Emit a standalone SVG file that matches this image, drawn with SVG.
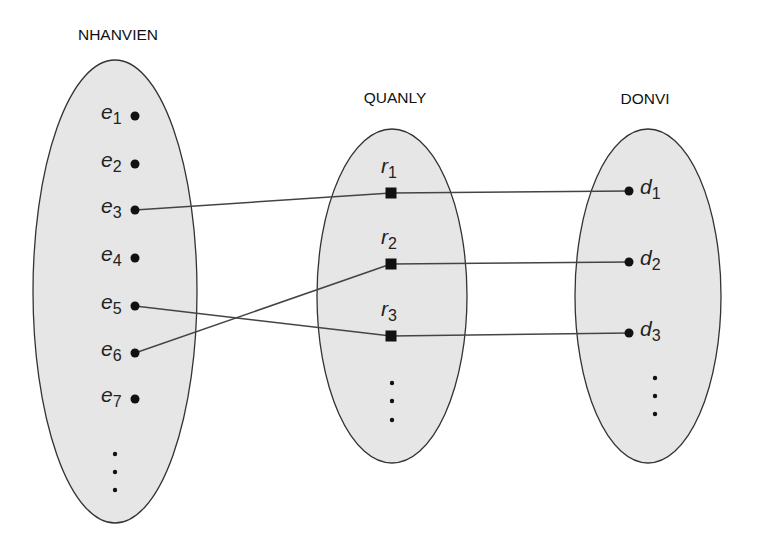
<svg xmlns="http://www.w3.org/2000/svg" width="764" height="542" viewBox="0 0 764 542">
<style>
.set{fill:#e6e6e6;stroke:#333;stroke-width:1.3}
.title{font-family:"Liberation Sans",Arial,sans-serif;font-size:15.5px;fill:#111;text-anchor:middle}
.lbl{font-family:"Liberation Sans",Arial,sans-serif;font-size:21px;font-style:italic;fill:#222}
.sub{font-size:16px;font-style:normal}
.conn line{stroke:#444;stroke-width:1.5}
.dot{fill:#111}
.sq{fill:#111}
</style>
<rect width="764" height="542" fill="#fff"/>
<g id="NHANVIEN">
<ellipse class="set" cx="115" cy="291.5" rx="82" ry="231.5"/>
<text class="title" x="118" y="40">NHANVIEN</text>
</g>
<g id="QUANLY">
<ellipse class="set" cx="392" cy="296" rx="75" ry="167"/>
<text class="title" x="395" y="103">QUANLY</text>
</g>
<g id="DONVI">
<ellipse class="set" cx="648" cy="296" rx="73" ry="167"/>
<text class="title" x="645" y="104">DONVI</text>
</g>
<g class="conn" id="connectors">
<line x1="135" y1="210" x2="391" y2="193"/>
<line x1="391" y1="193" x2="629" y2="191"/>
<line x1="135" y1="353" x2="391" y2="264"/>
<line x1="391" y1="264" x2="629" y2="262"/>
<line x1="135" y1="306" x2="391" y2="336"/>
<line x1="391" y1="336" x2="629" y2="333"/>
</g>
<g id="e1"><circle class="dot" cx="135" cy="116" r="4.5"/><text class="lbl" x="101" y="119">e<tspan class="sub" dy="5">1</tspan></text></g>
<g id="e2"><circle class="dot" cx="135" cy="164" r="4.5"/><text class="lbl" x="101" y="167">e<tspan class="sub" dy="5">2</tspan></text></g>
<g id="e3"><circle class="dot" cx="135" cy="210" r="4.5"/><text class="lbl" x="101" y="213">e<tspan class="sub" dy="5">3</tspan></text></g>
<g id="e4"><circle class="dot" cx="135" cy="258" r="4.5"/><text class="lbl" x="101" y="261">e<tspan class="sub" dy="5">4</tspan></text></g>
<g id="e5"><circle class="dot" cx="135" cy="306" r="4.5"/><text class="lbl" x="101" y="309">e<tspan class="sub" dy="5">5</tspan></text></g>
<g id="e6"><circle class="dot" cx="135" cy="353" r="4.5"/><text class="lbl" x="101" y="356">e<tspan class="sub" dy="5">6</tspan></text></g>
<g id="e7"><circle class="dot" cx="135" cy="399" r="4.5"/><text class="lbl" x="101" y="402">e<tspan class="sub" dy="5">7</tspan></text></g>
<g id="e-more"><circle class="dot" cx="115" cy="454" r="2.2"/><circle class="dot" cx="115" cy="472" r="2.2"/><circle class="dot" cx="115" cy="490" r="2.2"/></g>
<g id="r1"><rect class="sq" x="385.5" y="187.5" width="11" height="11"/><text class="lbl" x="381" y="173">r<tspan class="sub" dy="5">1</tspan></text></g>
<g id="r2"><rect class="sq" x="385.5" y="258.5" width="11" height="11"/><text class="lbl" x="381" y="244">r<tspan class="sub" dy="5">2</tspan></text></g>
<g id="r3"><rect class="sq" x="385.5" y="330.5" width="11" height="11"/><text class="lbl" x="381" y="316">r<tspan class="sub" dy="5">3</tspan></text></g>
<g id="r-more"><circle class="dot" cx="392" cy="383" r="2.2"/><circle class="dot" cx="392" cy="401" r="2.2"/><circle class="dot" cx="392" cy="420" r="2.2"/></g>
<g id="d1"><circle class="dot" cx="629" cy="191" r="4.5"/><text class="lbl" x="640" y="194">d<tspan class="sub" dy="5">1</tspan></text></g>
<g id="d2"><circle class="dot" cx="629" cy="262" r="4.5"/><text class="lbl" x="640" y="265">d<tspan class="sub" dy="5">2</tspan></text></g>
<g id="d3"><circle class="dot" cx="629" cy="333" r="4.5"/><text class="lbl" x="640" y="336">d<tspan class="sub" dy="5">3</tspan></text></g>
<g id="d-more"><circle class="dot" cx="655" cy="378" r="2.2"/><circle class="dot" cx="655" cy="396" r="2.2"/><circle class="dot" cx="655" cy="414" r="2.2"/></g>
</svg>
